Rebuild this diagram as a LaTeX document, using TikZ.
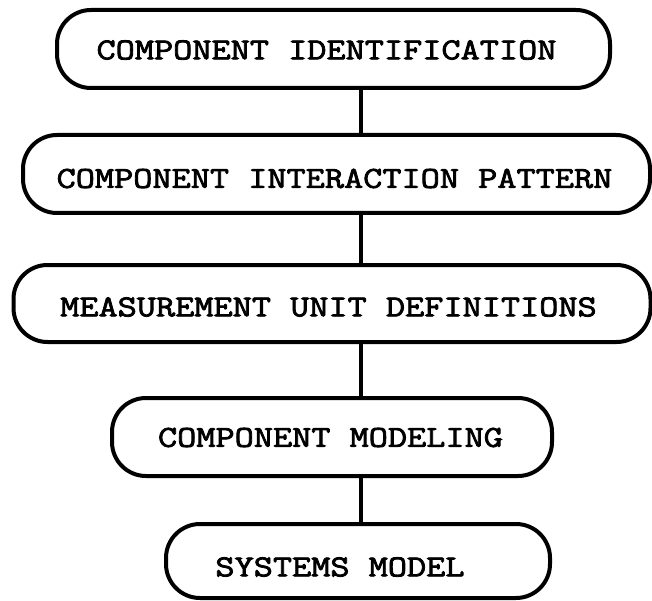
\documentclass[tikz,border=0pt]{standalone}
\usepackage{fontspec}
\setmonofont{Latin Modern Mono}[FakeStretch=1.22,FakeBold=2.6]
\begin{document}
\begin{tikzpicture}[x=1pt,y=-1pt,
  stage/.style={draw, line width=4pt, rounded corners=34pt, inner sep=0pt},
  caption/.style={font=\ttfamily\fontsize{30.5}{34}\selectfont, inner sep=0pt},
  link/.style={line width=3.5pt}]
  \useasboundingbox (0,0) rectangle (652,601);
  \coordinate (spine) at (361,0);

  \node[stage, minimum width=553pt, minimum height=78pt] (b1) at (333.5,49)
    {}; \node[caption] (t1) at (326.5,50) {COMPONENT IDENTIFICATION};
  \node[stage, minimum width=627pt, minimum height=78pt] (b2) at (336.5,174)
    {}; \node[caption] (t2) at (334.5,178.5) {COMPONENT INTERACTION PATTERN};
  \node[stage, minimum width=637pt, minimum height=77pt] (b3) at (332,303.5)
    {}; \node[caption] (t3) at (328.5,307) {MEASUREMENT UNIT DEFINITIONS};
  \node[stage, minimum width=440pt, minimum height=78pt] (b4) at (332,437)
    {}; \node[caption] (t4) at (330.5,437.5) {COMPONENT MODELING};
  \node[stage, minimum width=384pt, minimum height=74pt] (b5) at (358,561)
    {}; \node[caption] (t5) at (340,567) {SYSTEMS MODEL};

  \draw[link] (b1.south -| spine) -- (b2.north -| spine);
  \draw[link] (b2.south -| spine) -- (b3.north -| spine);
  \draw[link] (b3.south -| spine) -- (b4.north -| spine);
  \draw[link] (b4.south -| spine) -- (b5.north -| spine);
\end{tikzpicture}
\end{document}
